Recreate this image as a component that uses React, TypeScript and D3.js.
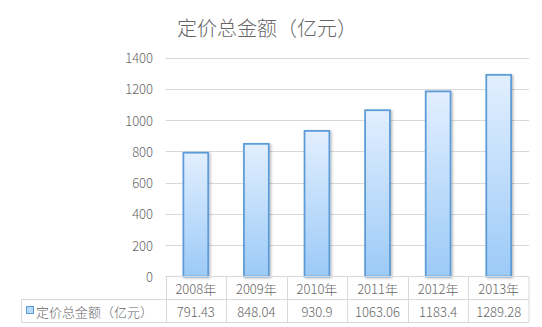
import React from "react";
import * as d3 from "d3";

const categories = ["2008年", "2009年", "2010年", "2011年", "2012年", "2013年"];
const values = [791.43, 848.04, 930.9, 1063.06, 1183.4, 1289.28];
const valueLabels = ["791.43", "848.04", "930.9", "1063.06", "1183.4", "1289.28"];
const yTicks = [0, 200, 400, 600, 800, 1000, 1200, 1400];
const seriesName = "定价总金额（亿元）";
const title = "定价总金额（亿元）";

const W = 542;
const H = 327;
const plotLeft = 165.5;
const plotRight = 529;
const plotTop = 57.5;
const plotBottom = 276.5;
const row1Bottom = 299.5;
const row2Bottom = 322.5;
const tableLeft = 21.5;
const font = "'Noto Sans CJK SC', 'Noto Sans', sans-serif";
const textColor = "#666666";
const gridColor = "#d9d9d9";

export default function App() {
  const x = d3.scaleBand<string>().domain(categories).range([plotLeft, plotRight]).padding(0);
  const y = d3.scaleLinear().domain([0, 1400]).range([plotBottom, plotTop]);
  const bw = x.bandwidth() * 0.41;

  return (
    <div style={{ position: "absolute", left: 0, top: 0 }}>
      <svg width={W} height={H} style={{ display: "block", background: "#fff" }}>
        <defs>
          <linearGradient id="barGrad" x1="0" y1="0" x2="0" y2="1">
            <stop offset="0%" stopColor="#e2efff" />
            <stop offset="100%" stopColor="#9ccaf7" />
          </linearGradient>
          <filter id="shadow" x="-30%" y="-10%" width="160%" height="120%">
            <feDropShadow dx="1.5" dy="1" stdDeviation="1.2" floodColor="#000" floodOpacity="0.25" />
          </filter>
        </defs>
        <text
          x={267}
          y={27}
          textAnchor="middle"
          dominantBaseline="central"
          fontFamily={font}
          fontSize={20}
          fontWeight={300}
          fill={textColor}
        >
          {title}
        </text>
        {yTicks.map((t) => (
          <g key={t}>
            {t > 0 && (
              <line x1={plotLeft} x2={plotRight} y1={Math.round(y(t)) + 0.5} y2={Math.round(y(t)) + 0.5} stroke={gridColor} strokeWidth={1} />
            )}
            <text
              x={153}
              y={y(t)}
              textAnchor="end"
              dominantBaseline="central"
              fontFamily={font}
              fontSize={13}
              fontWeight={300}
              fill={textColor}
            >
              {t}
            </text>
          </g>
        ))}
        {values.map((v, i) => {
          const cx = (x(categories[i]) as number) + x.bandwidth() / 2;
          return (
            <rect
              key={i}
              x={cx - bw / 2}
              y={y(v)}
              width={bw}
              height={plotBottom - y(v)}
              fill="url(#barGrad)"
              stroke="#5b9bd5"
              strokeWidth={1.75}
              filter="url(#shadow)"
            />
          );
        })}
        {/* table */}
        <line x1={plotLeft} x2={plotRight} y1={plotBottom} y2={plotBottom} stroke={gridColor} />
        <line x1={tableLeft} x2={plotRight} y1={row1Bottom} y2={row1Bottom} stroke={gridColor} />
        <line x1={tableLeft} x2={plotRight} y1={row2Bottom} y2={row2Bottom} stroke={gridColor} />
        <line x1={tableLeft} x2={tableLeft} y1={row1Bottom} y2={row2Bottom} stroke={gridColor} />
        {categories.map((c) => (
          <line
            key={"v" + c}
            x1={Math.round(x(c) as number) + 0.5}
            x2={Math.round(x(c) as number) + 0.5}
            y1={plotBottom}
            y2={row2Bottom}
            stroke={gridColor}
          />
        ))}
        <line x1={plotRight} x2={plotRight} y1={plotBottom} y2={row2Bottom} stroke={gridColor} />
        {categories.map((c, i) => {
          const cx = (x(c) as number) + x.bandwidth() / 2;
          return (
            <g key={"t" + c}>
              <text x={cx} y={(plotBottom + row1Bottom) / 2} textAnchor="middle" dominantBaseline="central" fontFamily={font} fontSize={13} fontWeight={300} fill={textColor}>
                {c}
              </text>
              <text x={cx} y={(row1Bottom + row2Bottom) / 2} textAnchor="middle" dominantBaseline="central" fontFamily={font} fontSize={13} fontWeight={300} fill={textColor}>
                {valueLabels[i]}
              </text>
            </g>
          );
        })}
        <rect x={26.5} y={306.5} width={7} height={7} fill="#b9dbfb" stroke="#5b9bd5" strokeWidth={1} />
        <text x={36} y={(row1Bottom + row2Bottom) / 2} dominantBaseline="central" fontFamily={font} fontSize={13} fontWeight={300} fill={textColor}>
          {seriesName}
        </text>
      </svg>
    </div>
  );
}
